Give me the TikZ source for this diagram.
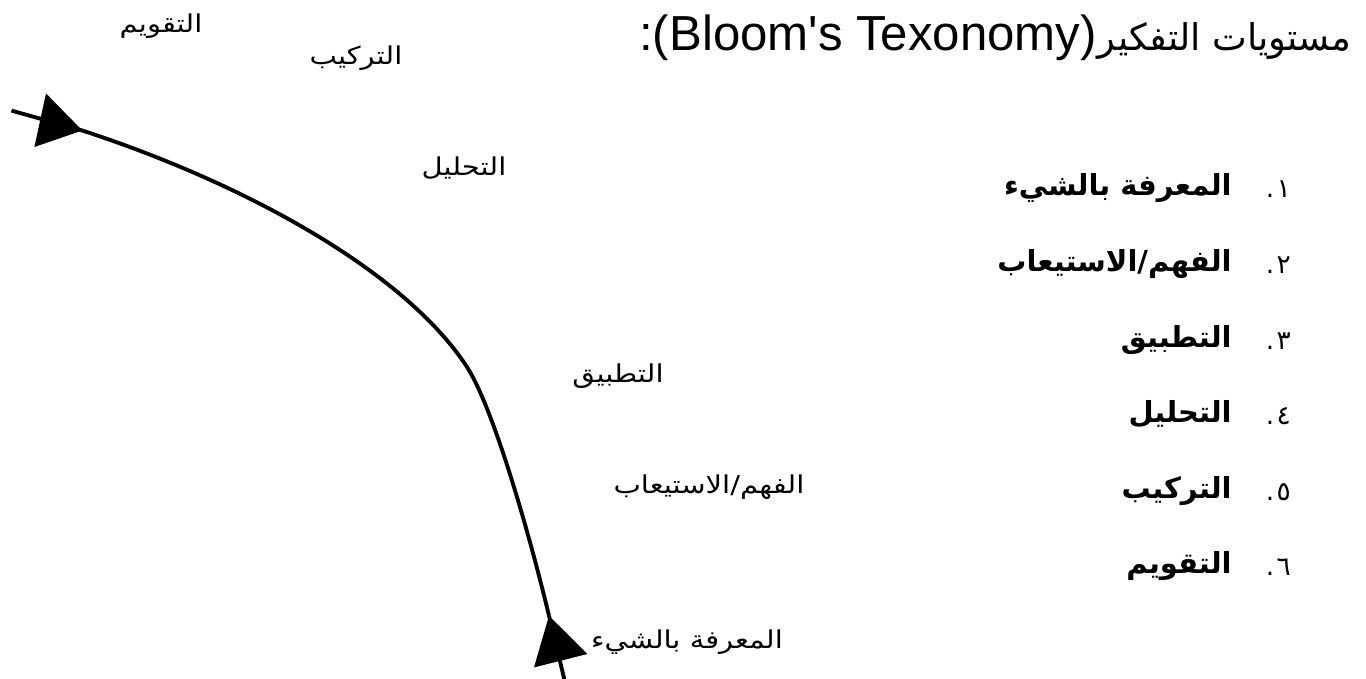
\documentclass[tikz,border=0pt]{standalone}
\usepackage{fontspec}
\setmainfont{Liberation Sans}
\newfontfamily\latinfont[Ligatures=TeXOff]{Liberation Sans}
\newfontfamily\arabicfont[Script=Arabic]{DejaVu Sans}
\newfontfamily\arabicwide[Script=Arabic,FakeStretch=1.18]{DejaVu Sans}
\TeXXeTstate=1
\tikzset{
  curvelabel/.style={font=\arabicwide\fontsize{14}{17}\selectfont, inner sep=0pt, anchor=base},
  listitem/.style={font=\arabicfont\bfseries\fontsize{16.5}{20}\selectfont, inner sep=0pt, anchor=base east},
  listnum/.style={font=\arabicfont\fontsize{15}{18}\selectfont, inner sep=0pt, anchor=base east},
  listdot/.style={font=\arabicfont\fontsize{15}{18}\selectfont, inner sep=0pt, anchor=base},
  titlear/.style={font=\arabicfont\fontsize{21}{25}\selectfont, inner sep=0pt, anchor=base east},
  titlelat/.style={font=\latinfont\fontsize{28}{32}\selectfont, inner sep=0pt, anchor=base east},
  curveline/.style={line width=2.2pt},
  headfill/.style={fill=black},
}
\begin{document}
\begin{tikzpicture}[x=0.02cm,y=-0.02cm]
\useasboundingbox (0,0) rectangle (1366,679);
% title
\node[titlear] (tar) at (1352,51) {\beginR مستويات التفكير\endR};
\node[titlelat] (tlat) at (tar.base west) {:(Bloom's Texonomy)};
% list
\foreach \n/\y/\t in {1/195/{المعرفة بالشيء},2/271/{الفهم/الاستيعاب},3/347/{التطبيق},4/422/{التحليل},5/498/{التركيب},6/573/{التقويم}}{
  \node[listitem] (item\n) at (1232,\y) {\beginR\t\endR};
  \node[listdot] (dot\n) at (1270,\y+2) {.};
}
\node[listnum] (n1) at (1291,197) {١};
\node[listnum] (n2) at (1291,273) {٢};
\node[listnum] (n3) at (1291,349) {٣};
\node[listnum] (n4) at (1291,424) {٤};
\node[listnum] (n5) at (1291,500) {٥};
\node[listnum] (n6) at (1291,575) {٦};
% curve labels
\node[curvelabel] (l6) at (161,33) {\beginR التقويم\endR};
\node[curvelabel] (l5) at (356,65) {\beginR التركيب\endR};
\node[curvelabel] (l4) at (464,175) {\beginR التحليل\endR};
\node[curvelabel] (l3) at (618,382) {\beginR التطبيق\endR};
\node[curvelabel] (l2) at (709,493) {\beginR الفهم/الاستيعاب\endR};
\node[curvelabel] (l1) at (687,648) {\beginR المعرفة بالشيء\endR};
% curve
\coordinate (ctop) at (82.3,130.5);
\coordinate (cmid) at (467,367);
\coordinate (cbot) at (549,615.8);
\coordinate (stubtop) at (11.5,110.6);
\coordinate (stubbot) at (564.5,680);
\draw[curveline] (stubtop) -- (ctop);
\draw[curveline] (cbot) -- (stubbot);
\draw[curveline] (ctop) .. controls (253,186.3) and (407,274.7) .. (cmid)
                        .. controls (494,409) and (530.4,538) .. (cbot);
\fill[headfill] (46,93.4) -- (34.4,147) -- (ctop) -- cycle;
\fill[headfill] (cbot) -- (534,667.4) -- (587.4,654) -- cycle;
\end{tikzpicture}
\end{document}
